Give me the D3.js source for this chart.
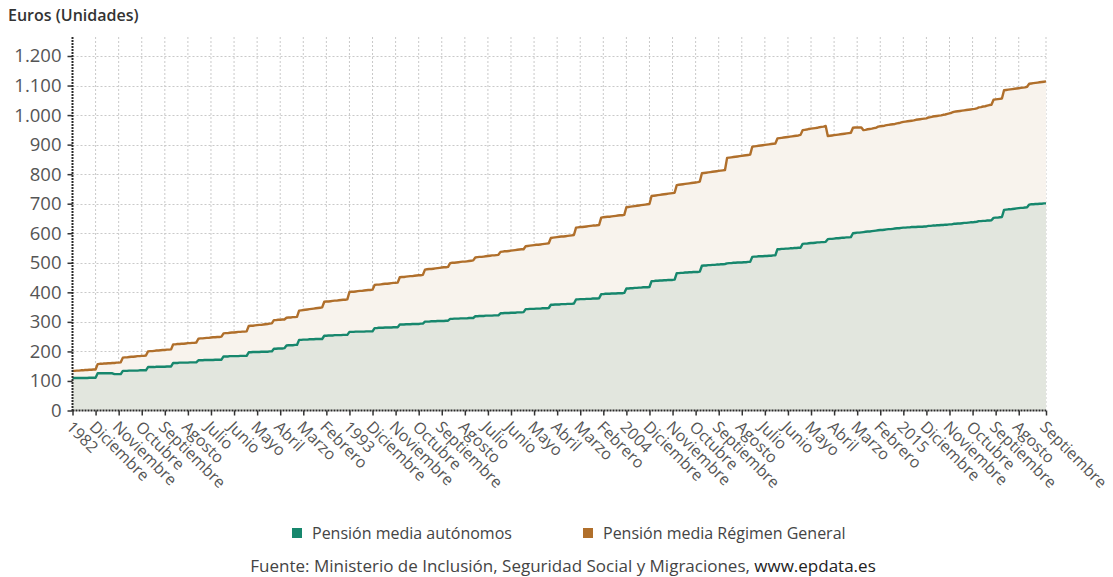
<!DOCTYPE html>
<html lang="es">
<head>
<meta charset="utf-8">
<script src="https://cdn.jsdelivr.net/npm/d3@7"></script>
<style>
  body { margin: 0; background: #fff; }
  svg { display: block; font-family: "Open Sans", sans-serif; }
</style>
</head>
<body>
<svg id="chart" width="1113" height="577"></svg>
<script>
// Años y meses de la serie (enero 1982 - septiembre 2020)
const years = [1982,1983,1984,1985,1986,1987,1988,1989,1990,1991,1992,1993,1994,1995,1996,1997,1998,1999,2000,
  2001,2002,2003,2004,2005,2006,2007,2008,2009,2010,2011,2012,2013,2014,2015,2016,2017,2018,2019,2020];
const monthNames = ["Enero","Febrero","Marzo","Abril","Mayo","Junio","Julio","Agosto","Septiembre","Octubre","Noviembre","Diciembre"];

// Pensión media de autónomos (euros), una fila por año
const autonomos = [
  110,110,110,110,110,110,110,110,111,111,111,111,
  126,126,126,126,126,126,126,126,123,123,123,123,
  134,134,134,135,135,135,135,135,136,136,136,136,
  147,147,147,147,148,148,148,148,148,149,149,149,
  161,161,161,162,162,162,162,162,163,163,163,163,
  170,170,170,171,171,171,171,171,172,172,172,172,
  183,183,183,184,184,184,184,184,185,185,185,185,
  197,197,198,198,198,198,199,199,199,199,200,200,
  209,209,210,210,210,211,220,221,221,221,222,222,
  239,239,240,240,240,241,241,241,242,242,242,242,
  253,253,254,254,254,255,255,255,255,256,256,256,
  266,266,266,267,267,267,267,267,268,268,268,268,
  279,279,280,280,280,281,281,281,281,282,282,282,
  291,291,291,292,292,292,293,293,293,293,294,294,
  301,301,301,302,302,302,303,303,303,303,304,304,
  310,310,311,311,311,312,312,312,312,313,313,313,
  319,319,320,320,320,321,321,321,321,322,322,322,
  329,329,330,330,330,331,331,331,332,332,332,333,
  343,343,344,344,344,345,345,345,346,346,346,347,
  358,358,359,359,359,360,360,360,361,361,361,362,
  376,376,377,377,377,378,378,378,379,379,379,380,
  394,394,395,395,395,396,396,396,397,397,397,398,
  413,413,414,414,415,415,416,416,417,417,417,418,
  438,438,439,439,440,440,441,441,442,442,442,443,
  465,465,466,466,467,467,468,468,469,469,469,470,
  490,491,491,492,492,493,493,494,494,495,495,496,
  498,499,499,500,500,501,501,501,502,502,503,503,
  520,521,521,522,522,522,523,523,524,524,525,525,
  546,546,547,547,548,548,549,549,550,550,551,551,
  564,565,565,566,567,567,568,569,569,570,570,571,
  580,581,581,582,583,583,584,585,585,586,586,587,
  600,601,602,602,603,604,605,606,606,607,608,609,
  610,611,611,612,613,614,614,615,616,617,617,618,
  619,619,620,620,621,621,621,622,622,622,623,623,
  625,625,626,626,627,627,628,628,629,629,630,630,
  632,632,633,633,634,635,635,636,637,637,638,639,
  641,641,642,642,643,643,644,652,653,653,654,655,
  679,680,681,681,682,683,684,685,686,686,687,688,
  697,698,698,699,699,700,700,701,701
];

// Pensión media del Régimen General (euros), una fila por año
const regimenGeneral = [
  134,134,135,135,136,136,137,137,138,138,139,139,
  157,158,158,159,159,160,160,161,161,162,162,163,
  179,180,180,181,182,182,183,184,184,185,185,186,
  200,201,201,202,203,203,204,205,205,206,206,207,
  224,224,225,225,226,226,227,228,228,229,229,230,
  243,244,244,245,246,246,247,248,248,249,249,250,
  261,262,262,263,264,264,265,266,266,267,267,268,
  286,287,287,288,289,290,290,291,292,293,294,295,
  306,306,307,307,308,308,314,315,315,316,316,317,
  338,339,340,341,342,343,344,345,346,347,348,349,
  368,369,369,370,371,372,372,373,374,375,375,376,
  401,402,402,403,404,405,405,406,407,408,408,409,
  425,426,426,427,428,429,429,430,431,432,432,433,
  451,452,452,453,454,455,455,456,457,458,458,459,
  477,478,479,479,480,481,482,483,484,485,485,486,
  499,500,500,501,502,503,504,504,505,506,507,508,
  518,519,520,520,521,522,523,524,525,525,526,527,
  537,538,539,539,540,541,542,543,544,545,546,546,
  556,557,558,559,560,561,561,562,563,564,565,566,
  584,585,586,587,588,589,589,590,591,592,593,594,
  619,620,621,621,622,623,624,625,626,626,627,628,
  653,654,655,656,656,657,658,659,660,661,661,662,
  688,689,690,691,692,693,694,695,696,697,698,699,
  726,727,728,729,730,731,732,733,734,735,736,737,
  763,764,765,766,767,768,769,770,771,772,773,775,
  803,804,805,806,807,808,809,810,811,812,813,814,
  855,856,857,858,859,860,861,862,863,864,865,866,
  893,894,895,896,897,898,899,900,901,902,903,904,
  921,922,923,924,925,926,927,928,929,930,931,933,
  949,950,951,953,954,955,956,957,959,960,961,963,
  929,930,931,932,933,934,935,936,937,938,939,940,
  957,958,958,958,958,949,950,952,953,954,956,957,
  961,962,963,964,966,967,968,969,970,972,973,975,
  977,978,979,980,981,982,984,985,986,987,988,989,
  992,993,995,996,997,998,999,1001,1002,1004,1006,1008,
  1011,1012,1013,1014,1015,1016,1017,1018,1019,1020,1021,1023,
  1026,1027,1029,1030,1032,1034,1035,1052,1053,1054,1055,1056,
  1084,1085,1086,1087,1088,1089,1090,1091,1092,1093,1094,1096,
  1106,1107,1108,1109,1110,1111,1112,1113,1114
];

const yTicks = [0,100,200,300,400,500,600,700,800,900,1000,1100,1200];
const seriesLabels = ["Pensión media autónomos", "Pensión media Régimen General"];
const seriesColors = ["#17876d", "#b06f2b"];
const tickStep = 11;
const FONT = '"Open Sans", sans-serif';

// Categorías mensuales
const months = [];
years.forEach(yr => monthNames.forEach((m, mi) => months.push({ key: `${yr}-${mi + 1}`, year: yr, month: mi })));
const categories = months.slice(0, autonomos.length);

const rows = categories.map((c, i) => ({ key: c.key, cat: c, a: autonomos[i], g: regimenGeneral[i] }));

const svg = d3.select("#chart");
const plotLeft = 72.5, plotRight = 1046, plotBottom = 410.5, plotTop = 37;

const x = d3.scalePoint().domain(categories.map(c => c.key)).range([plotLeft, plotRight]);
const y = d3.scaleLinear().domain([0, 1200]).range([plotBottom, 56]);

const es = d3.formatLocale({ decimal: ",", thousands: ".", grouping: [3], currency: ["", " €"] });
const fmt = es.format(",d");

// Una marca cada 11 meses; la última categoría sustituye a la marca demasiado próxima al final
const lastIdx = categories.length - 1;
const tickIdx = d3.range(0, categories.length, tickStep).filter(i => lastIdx - i >= tickStep);
tickIdx.push(lastIdx);
const tickKeys = tickIdx.map(i => categories[i].key);
const tickLabel = k => {
  const c = categories.find(d => d.key === k);
  return c.month === 0 ? String(c.year) : monthNames[c.month];
};

// Rejilla
const grid = svg.append("g").attr("stroke", "#c9c9c9").attr("stroke-width", 1).attr("stroke-dasharray", "2,2");
grid.selectAll("line.h").data(yTicks.filter(t => t > 0)).join("line")
  .attr("x1", plotLeft).attr("x2", plotRight)
  .attr("y1", d => Math.round(y(d)) + 0.5).attr("y2", d => Math.round(y(d)) + 0.5);
grid.selectAll("line.v").data(tickKeys.slice(1)).join("line")
  .attr("x1", d => x(d)).attr("x2", d => x(d))
  .attr("y1", plotTop).attr("y2", plotBottom);

// Áreas
const areaG = d3.area().x(d => x(d.key)).y0(y(0)).y1(d => y(d.g));
const areaA = d3.area().x(d => x(d.key)).y0(y(0)).y1(d => y(d.a));
svg.append("path").datum(rows).attr("d", areaG).attr("fill", "#f8f3ed");
svg.append("path").datum(rows).attr("d", areaA).attr("fill", "#e2e6de");

// Líneas
const lineG = d3.line().x(d => x(d.key)).y(d => y(d.g));
const lineA = d3.line().x(d => x(d.key)).y(d => y(d.a));
svg.append("path").datum(rows).attr("d", lineG).attr("fill", "none")
  .attr("stroke", seriesColors[1]).attr("stroke-width", 2.4).attr("stroke-linejoin", "round");
svg.append("path").datum(rows).attr("d", lineA).attr("fill", "none")
  .attr("stroke", seriesColors[0]).attr("stroke-width", 2.4).attr("stroke-linejoin", "round");

// Eje Y
const yAxis = svg.append("g").attr("transform", `translate(${plotLeft},0)`)
  .call(d3.axisLeft(y).tickValues(yTicks).tickFormat(fmt).tickSize(5).tickPadding(6))
  .attr("font-family", FONT);
yAxis.select(".domain").remove();
yAxis.selectAll(".tick line").attr("stroke", "#333").attr("stroke-width", 1.5);
yAxis.selectAll("text").attr("font-size", 18.5).attr("fill", "#555");
svg.append("line").attr("x1", plotLeft).attr("x2", plotLeft).attr("y1", plotTop).attr("y2", plotBottom + 1)
  .attr("stroke", "#2a2a2a").attr("stroke-width", 2).attr("stroke-dasharray", "2,1");

// Eje X
const xAxis = svg.append("g").attr("transform", `translate(0,${plotBottom})`)
  .call(d3.axisBottom(x).tickValues(tickKeys).tickFormat(tickLabel).tickSize(5))
  .attr("font-family", FONT);
xAxis.select(".domain").remove();
xAxis.selectAll(".tick line").attr("stroke", "#333").attr("stroke-width", 1.5);
xAxis.selectAll("text")
  .attr("font-size", 16).attr("fill", "#555")
  .attr("text-anchor", "start").attr("dy", null).attr("y", null)
  .attr("transform", "translate(-7.5,17.5) rotate(45)");
svg.append("line").attr("x1", plotLeft).attr("x2", plotRight).attr("y1", plotBottom).attr("y2", plotBottom)
  .attr("stroke", "#2a2a2a").attr("stroke-width", 2).attr("stroke-dasharray", "2,1");

// Título del eje
svg.append("text").attr("x", 8).attr("y", 21).attr("font-size", 16).attr("font-weight", 600)
  .attr("fill", "#333").text("Euros (Unidades)");

// Leyenda
const legendX = [292, 583];
const legend = svg.append("g");
seriesLabels.forEach((s, i) => {
  legend.append("rect").attr("x", legendX[i]).attr("y", 528).attr("width", 10).attr("height", 10)
    .attr("fill", seriesColors[i]);
  legend.append("text").attr("x", legendX[i] + 20).attr("y", 539).attr("font-size", 16)
    .attr("fill", "#444").text(s);
});

// Fuente
const src = svg.append("text").attr("x", 563).attr("y", 572).attr("text-anchor", "middle")
  .attr("font-size", 17).attr("fill", "#444");
src.append("tspan").text("Fuente: Ministerio de Inclusión, Seguridad Social y Migraciones, ");
src.append("tspan").attr("fill", "#222").text("www.epdata.es");
</script>
</body>
</html>
